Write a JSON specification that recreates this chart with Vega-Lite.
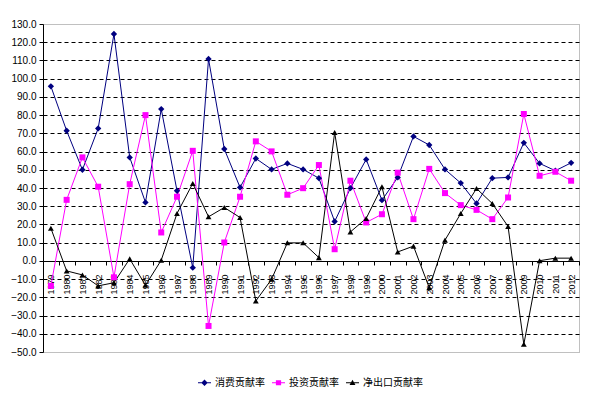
{
  "$schema": "https://vega.github.io/schema/vega-lite/v6.json",
  "width": 536,
  "height": 328,
  "autosize": {"type": "none"},
  "padding": {"left": 43, "top": 24, "right": 11, "bottom": 47},
  "background": "white",
  "config": {
    "view": {"stroke": "#808080", "strokeDash": [1, 1], "strokeWidth": 1},
    "font": "Liberation Sans"
  },
  "data": {
    "values": [
      {"year": "1979", "消费贡献率": 95.8, "投资贡献率": -13.7, "净出口贡献率": 17.9},
      {"year": "1980", "消费贡献率": 71.4, "投资贡献率": 33.5, "净出口贡献率": -5.5},
      {"year": "1981", "消费贡献率": 50.0, "投资贡献率": 56.8, "净出口贡献率": -7.7},
      {"year": "1982", "消费贡献率": 72.7, "投资贡献率": 40.7, "净出口贡献率": -13.7},
      {"year": "1983", "消费贡献率": 124.5, "投资贡献率": -9.0, "净出口贡献率": -12.0},
      {"year": "1984", "消费贡献率": 56.8, "投资贡献率": 42.1, "净出口贡献率": 1.1},
      {"year": "1985", "消费贡献率": 32.1, "投资贡献率": 80.0, "净出口贡献率": -13.4},
      {"year": "1986", "消费贡献率": 83.3, "投资贡献率": 15.6, "净出口贡献率": 0.4},
      {"year": "1987", "消费贡献率": 38.5, "投资贡献率": 35.2, "净出口贡献率": 26.0},
      {"year": "1988", "消费贡献率": -3.7, "投资贡献率": 60.4, "净出口贡献率": 42.5},
      {"year": "1989", "消费贡献率": 110.8, "投资贡献率": -35.7, "净出口贡献率": 24.2},
      {"year": "1990", "消费贡献率": 61.4, "投资贡献率": 10.1, "净出口贡献率": 29.3},
      {"year": "1991", "消费贡献率": 40.3, "投资贡献率": 35.2, "净出口贡献率": 23.8},
      {"year": "1992", "消费贡献率": 56.2, "投资贡献率": 65.6, "净出口贡献率": -22.0},
      {"year": "1993", "消费贡献率": 50.2, "投资贡献率": 60.1, "净出口贡献率": -10.1},
      {"year": "1994", "消费贡献率": 53.5, "投资贡献率": 36.3, "净出口贡献率": 9.9},
      {"year": "1995", "消费贡献率": 50.2, "投资贡献率": 39.9, "净出口贡献率": 9.9},
      {"year": "1996", "消费贡献率": 45.4, "投资贡献率": 52.6, "净出口贡献率": 1.8},
      {"year": "1997", "消费贡献率": 21.6, "投资贡献率": 6.4, "净出口贡献率": 70.5},
      {"year": "1998", "消费贡献率": 39.9, "投资贡献率": 44.0, "净出口贡献率": 15.9},
      {"year": "1999", "消费贡献率": 55.7, "投资贡献率": 21.1, "净出口贡献率": 23.3},
      {"year": "2000", "消费贡献率": 33.3, "投资贡献率": 25.6, "净出口贡献率": 40.7},
      {"year": "2001", "消费贡献率": 45.8, "投资贡献率": 48.4, "净出口贡献率": 4.9},
      {"year": "2002", "消费贡献率": 68.3, "投资贡献率": 22.9, "净出口贡献率": 8.1},
      {"year": "2003", "消费贡献率": 63.6, "投资贡献率": 50.5, "净出口贡献率": -14.7},
      {"year": "2004", "消费贡献率": 50.2, "投资贡献率": 37.2, "净出口贡献率": 11.4},
      {"year": "2005", "消费贡献率": 42.7, "投资贡献率": 30.6, "净出口贡献率": 26.0},
      {"year": "2006", "消费贡献率": 31.5, "投资贡献率": 28.0, "净出口贡献率": 39.7},
      {"year": "2007", "消费贡献率": 45.4, "投资贡献率": 22.9, "净出口贡献率": 31.5},
      {"year": "2008", "消费贡献率": 45.8, "投资贡献率": 34.8, "净出口贡献率": 18.9},
      {"year": "2009", "消费贡献率": 64.8, "投资贡献率": 80.6, "净出口贡献率": -45.8},
      {"year": "2010", "消费贡献率": 53.5, "投资贡献率": 46.7, "净出口贡献率": 0.1},
      {"year": "2011", "消费贡献率": 49.5, "投资贡献率": 48.9, "净出口贡献率": 1.5},
      {"year": "2012", "消费贡献率": 53.8, "投资贡献率": 44.0, "净出口贡献率": 1.5}
    ]
  },
  "transform": [
    {"fold": ["消费贡献率", "投资贡献率", "净出口贡献率"], "as": ["series", "value"]}
  ],
  "encoding": {
    "x": {
      "field": "year",
      "type": "ordinal",
      "scale": {"type": "band", "paddingInner": 0, "paddingOuter": 0},
      "axis": {
        "title": null,
        "offset": -91,
        "domainColor": "black",
        "tickColor": "black",
        "tickSize": 4,
        "tickBand": "extent",
        "labelAngle": 270,
        "labelAlign": "right",
        "labelBaseline": "middle",
        "labelFontSize": 9,
        "labelColor": "black",
        "labelPadding": 9,
        "grid": false
      }
    },
    "y": {
      "field": "value",
      "type": "quantitative",
      "scale": {"domain": [-50, 130], "nice": false, "zero": false},
      "axis": {
        "title": null,
        "format": ".1f",
        "values": [-50, -40, -30, -20, -10, 0, 10, 20, 30, 40, 50, 60, 70, 80, 90, 100, 110, 120, 130],
        "grid": true,
        "gridColor": {"condition": {"test": "datum.value == 130 || datum.value == -50", "value": "transparent"}, "value": "black"},
        "gridDash": [4, 3],
        "gridWidth": 1,
        "domainColor": "black",
        "tickColor": "black",
        "tickSize": 4,
        "labelPadding": 3,
        "labelFontSize": 10,
        "labelColor": "black"
      }
    },
    "color": {
      "field": "series",
      "type": "nominal",
      "scale": {"domain": ["消费贡献率", "投资贡献率", "净出口贡献率"], "range": ["#000080", "#FF00FF", "#000000"]},
      "legend": {
        "title": null,
        "orient": "none",
        "direction": "horizontal",
        "legendX": 155,
        "legendY": 352,
        "padding": 0,
        "symbolSize": 169,
        "symbolStrokeWidth": 0,
        "labelFont": "Noto Sans CJK SC",
        "labelFontSize": 10,
        "labelColor": "black",
        "labelOffset": 4,
        "columnPadding": 7,
        "encode": {
          "symbols": {
            "update": {
              "shape": {"signal": "datum.value == '消费贡献率' ? 'M-1,-0.08L1,-0.08L1,0.08L-1,0.08ZM0,-0.5L0.5,0L0,0.5L-0.5,0Z' : datum.value == '投资贡献率' ? 'M-1,-0.08L1,-0.08L1,0.08L-1,0.08ZM-0.4,-0.4L0.4,-0.4L0.4,0.4L-0.4,0.4Z' : 'M-1,-0.08L1,-0.08L1,0.08L-1,0.08ZM0,-0.45L0.45,0.35L-0.45,0.35Z'"},
              "fill": {"signal": "datum.value == '消费贡献率' ? '#000080' : datum.value == '投资贡献率' ? '#FF00FF' : '#000000'"},
              "opacity": {"value": 1},
              "fillOpacity": {"value": 1}
            }
          }
        }
      }
    }
  },
  "layer": [
    {"mark": {"type": "line", "strokeWidth": 1}},
    {
      "transform": [{"filter": "datum.series == '消费贡献率'"}],
      "mark": {"type": "point", "shape": "diamond", "filled": true, "size": 40, "opacity": 1}
    },
    {
      "transform": [{"filter": "datum.series == '投资贡献率'"}],
      "mark": {"type": "point", "shape": "square", "filled": true, "size": 36, "opacity": 1}
    },
    {
      "transform": [{"filter": "datum.series == '净出口贡献率'"}],
      "mark": {"type": "point", "shape": "triangle-up", "filled": true, "size": 34, "opacity": 1}
    }
  ]
}
